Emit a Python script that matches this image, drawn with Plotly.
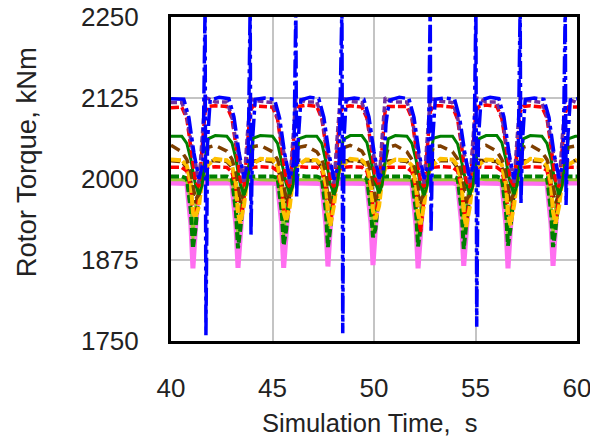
import plotly.graph_objects as go

# time grid shared by the lower/middle series (s)
t_grid = [40.00,
    40.53, 40.78, 40.98, 41.08, 41.20, 41.38, 41.53, 41.68, 41.83, 42.18,
    42.75, 43.00, 43.20, 43.30, 43.42, 43.60, 43.75, 43.90, 44.05, 44.40,
    45.00, 45.25, 45.45, 45.55, 45.67, 45.85, 46.00, 46.15, 46.30, 46.65,
    47.18, 47.43, 47.63, 47.73, 47.85, 48.03, 48.18, 48.33, 48.48, 48.83,
    49.40, 49.65, 49.85, 49.95, 50.07, 50.25, 50.40, 50.55, 50.70, 51.05,
    51.62, 51.87, 52.07, 52.17, 52.29, 52.47, 52.62, 52.77, 52.92, 53.27,
    53.87, 54.12, 54.32, 54.42, 54.54, 54.72, 54.87, 55.02, 55.17, 55.52,
    56.05, 56.30, 56.50, 56.60, 56.72, 56.90, 57.05, 57.20, 57.35, 57.70,
    58.27, 58.52, 58.72, 58.82, 58.94, 59.12, 59.27, 59.42, 59.57, 59.92,
    60.00]

pink = [1994,
    1994, 1993, 1930, 1862, 1922, 1991, 1994, 1994, 1995, 1994,
    1994, 1993, 1928, 1863, 1925, 1992, 1994, 1994, 1994, 1994,
    1994, 1992, 1931, 1863, 1923, 1991, 1994, 1995, 1994, 1994,
    1994, 1993, 1929, 1865, 1926, 1992, 1994, 1994, 1994, 1994,
    1994, 1993, 1932, 1867, 1924, 1991, 1994, 1994, 1995, 1994,
    1994, 1993, 1928, 1862, 1922, 1992, 1994, 1994, 1994, 1994,
    1994, 1992, 1930, 1866, 1925, 1991, 1994, 1995, 1994, 1994,
    1994, 1993, 1929, 1862, 1923, 1992, 1994, 1994, 1994, 1994,
    1994, 1993, 1931, 1866, 1924, 1991, 1994, 1994, 1994, 1994,
    1994]

yellowgreen = [1999,
    1999, 1997, 1962, 1908, 1955, 1995, 1999, 1999, 1999, 1999,
    1999, 1997, 1963, 1910, 1954, 1996, 1999, 1999, 2000, 1999,
    1999, 1998, 1961, 1909, 1956, 1995, 1999, 1999, 1999, 1999,
    1999, 1997, 1964, 1911, 1955, 1996, 1999, 2000, 1999, 1999,
    1999, 1997, 1962, 1914, 1953, 1995, 1999, 1999, 1999, 1999,
    1999, 1998, 1963, 1908, 1955, 1996, 1999, 1999, 1999, 1999,
    1999, 1997, 1962, 1911, 1956, 1995, 1999, 1999, 2000, 1999,
    1999, 1997, 1961, 1909, 1954, 1996, 1999, 1999, 1999, 1999,
    1999, 1998, 1963, 1912, 1955, 1995, 1999, 1999, 1999, 1999,
    1999]

green_dash = [2004,
    2004, 2001, 1950, 1893, 1922, 1984, 2001, 2004, 2004, 2004,
    2004, 2001, 1949, 1893, 1924, 1985, 2002, 2004, 2004, 2004,
    2004, 2002, 1951, 1898, 1921, 1983, 2001, 2004, 2005, 2004,
    2004, 2001, 1950, 1895, 1925, 1985, 2002, 2004, 2004, 2004,
    2004, 2001, 1952, 1910, 1923, 1984, 2001, 2004, 2004, 2004,
    2004, 2002, 1949, 1896, 1922, 1985, 2002, 2004, 2004, 2004,
    2004, 2001, 1950, 1892, 1924, 1983, 2001, 2005, 2004, 2004,
    2004, 2001, 1951, 1897, 1923, 1985, 2002, 2004, 2004, 2004,
    2004, 2002, 1950, 1895, 1922, 1984, 2001, 2004, 2004, 2004,
    2004]

red_low = [2018,
    2018, 2012, 1985, 1952, 1941, 1972, 2004, 2015, 2018, 2019,
    2018, 2011, 1986, 1950, 1938, 1973, 2005, 2016, 2018, 2019,
    2018, 2012, 1984, 1953, 1940, 1971, 2004, 2015, 2019, 2018,
    2018, 2013, 1985, 1951, 1935, 1972, 2003, 2015, 2018, 2019,
    2018, 2012, 1986, 1954, 1942, 1974, 2005, 2016, 2018, 2018,
    2018, 2011, 1985, 1950, 1918, 1972, 2004, 2015, 2018, 2019,
    2018, 2012, 1984, 1952, 1933, 1971, 2004, 2016, 2019, 2018,
    2018, 2012, 1985, 1951, 1930, 1973, 2005, 2015, 2018, 2019,
    2018, 2013, 1986, 1953, 1934, 1972, 2004, 2015, 2018, 2018,
    2018]

orange = [2030,
    2029, 2021, 1992, 1948, 1941, 1958, 1998, 2017, 2022, 2031,
    2029, 2022, 1993, 1947, 1932, 1960, 1999, 2018, 2023, 2031,
    2030, 2021, 1991, 1949, 1935, 1957, 1997, 2017, 2022, 2030,
    2029, 2021, 1992, 1946, 1928, 1959, 1998, 2018, 2022, 2031,
    2029, 2022, 1993, 1950, 1938, 1958, 1998, 2017, 2023, 2030,
    2029, 2021, 1992, 1947, 1930, 1960, 1999, 2018, 2022, 2031,
    2030, 2021, 1991, 1948, 1926, 1957, 1997, 2017, 2022, 2030,
    2029, 2022, 1992, 1947, 1929, 1959, 1998, 2018, 2023, 2031,
    2029, 2021, 1993, 1949, 1931, 1958, 1998, 2017, 2022, 2030,
    2030]

brown_low = [2028,
    2027, 2017, 1996, 1976, 1963, 1974, 2008, 2026, 2028, 2028,
    2027, 2018, 1995, 1975, 1964, 1975, 2009, 2027, 2028, 2029,
    2027, 2017, 1996, 1977, 1962, 1974, 2008, 2026, 2029, 2028,
    2028, 2017, 1995, 1976, 1963, 1976, 2007, 2026, 2028, 2028,
    2027, 2018, 1996, 1978, 1965, 1975, 2008, 2027, 2028, 2029,
    2027, 2017, 1995, 1975, 1962, 1974, 2009, 2026, 2028, 2028,
    2028, 2017, 1996, 1976, 1963, 1975, 2008, 2026, 2029, 2028,
    2027, 2018, 1995, 1977, 1964, 1974, 2007, 2027, 2028, 2028,
    2027, 2017, 1996, 1976, 1963, 1975, 2008, 2026, 2028, 2028,
    2028]

brown_up = [2052,
    2042, 2030, 2010, 1992, 1968, 1976, 1998, 2028, 2049, 2052,
    2043, 2031, 2011, 1991, 1967, 1977, 1999, 2029, 2050, 2052,
    2042, 2030, 2009, 1993, 1969, 1976, 1997, 2028, 2049, 2051,
    2042, 2031, 2010, 1992, 1966, 1975, 1998, 2027, 2048, 2052,
    2043, 2030, 2011, 1994, 1970, 1977, 1999, 2029, 2049, 2052,
    2042, 2030, 2010, 1991, 1967, 1976, 1998, 2028, 2050, 2051,
    2042, 2031, 2009, 1992, 1968, 1975, 1997, 2028, 2049, 2052,
    2043, 2030, 2010, 1993, 1967, 1977, 1999, 2029, 2049, 2052,
    2042, 2030, 2011, 1992, 1969, 1976, 1998, 2028, 2049, 2051,
    2050]

green_solid = [2066,
    2066, 2055, 2030, 2012, 1992, 1976, 1990, 2030, 2062, 2067,
    2066, 2056, 2031, 2011, 1991, 1975, 1991, 2031, 2063, 2067,
    2066, 2055, 2029, 2012, 1993, 1977, 1989, 2030, 2062, 2066,
    2066, 2055, 2030, 2013, 1992, 1976, 1990, 2029, 2061, 2067,
    2067, 2056, 2031, 2014, 1994, 1978, 1991, 2031, 2062, 2067,
    2066, 2055, 2030, 2011, 1991, 1975, 1990, 2030, 2063, 2066,
    2066, 2054, 2029, 2012, 1992, 1976, 1989, 2030, 2062, 2067,
    2067, 2056, 2030, 2011, 1992, 1977, 1991, 2031, 2062, 2067,
    2066, 2055, 2031, 2012, 1993, 1976, 1990, 2030, 2062, 2066,
    2066]

red_top = [2110,
    2111, 2093, 2050, 2022, 1998, 1988, 2048, 2104, 2112, 2113,
    2112, 2094, 2051, 2021, 1997, 1989, 2050, 2105, 2113, 2112,
    2111, 2092, 2049, 2023, 1999, 1987, 2047, 2104, 2112, 2114,
    2112, 2093, 2050, 2022, 1998, 1988, 2049, 2103, 2111, 2113,
    2111, 2094, 2052, 2024, 2000, 1990, 2051, 2105, 2112, 2112,
    2112, 2093, 2050, 2021, 1997, 1988, 2048, 2104, 2113, 2113,
    2111, 2092, 2049, 2022, 1998, 1987, 2049, 2105, 2112, 2114,
    2112, 2093, 2051, 2023, 1999, 1989, 2050, 2104, 2112, 2113,
    2111, 2094, 2050, 2022, 1998, 1988, 2048, 2103, 2111, 2112,
    2111]

purple = [2118,
    2118, 2096, 2056, 2041, 2026, 1993, 2062, 2126, 2124, 2119,
    2119, 2097, 2057, 2040, 2025, 1994, 2063, 2124, 2122, 2120,
    2118, 2095, 2055, 2042, 2027, 1992, 2061, 2125, 2123, 2119,
    2119, 2096, 2056, 2041, 2026, 1993, 2062, 2123, 2124, 2120,
    2118, 2097, 2058, 2043, 2028, 1995, 2064, 2126, 2122, 2119,
    2119, 2096, 2056, 2040, 2025, 1993, 2062, 2124, 2123, 2120,
    2118, 2095, 2055, 2041, 2026, 1992, 2061, 2125, 2124, 2119,
    2119, 2096, 2057, 2042, 2027, 1994, 2063, 2124, 2122, 2120,
    2118, 2097, 2056, 2041, 2026, 1993, 2062, 2123, 2123, 2119,
    2118]

# blue series has its own sample times (spikes)
t_blue = [40.00,
    40.63, 40.88, 41.13, 41.38, 41.58, 41.68, 41.72, 41.80, 41.93, 42.38,
    42.85, 43.10, 43.35, 43.60, 43.80, 43.90, 43.94, 44.02, 44.15, 44.60,
    45.10, 45.35, 45.60, 45.85, 46.05, 46.15, 46.19, 46.27, 46.40, 46.85,
    47.28, 47.53, 47.78, 48.03, 48.28, 48.42, 48.46, 48.52, 48.63, 49.03,
    49.50, 49.75, 50.00, 50.25, 50.45, 50.55, 50.59, 50.67, 50.80, 51.25,
    51.72, 51.97, 52.22, 52.47, 52.67, 52.77, 52.81, 52.89, 53.02, 53.47,
    53.97, 54.22, 54.47, 54.72, 54.92, 55.02, 55.06, 55.14, 55.27, 55.72,
    56.15, 56.40, 56.65, 56.90, 57.10, 57.20, 57.24, 57.32, 57.45, 57.90,
    58.37, 58.62, 58.87, 59.12, 59.32, 59.42, 59.46, 59.54, 59.67, 60.00]

blue = [2124,
    2123, 2095, 2040, 2000, 2025, 2270, 1759, 2060, 2122, 2126,
    2124, 2096, 2041, 2001, 2024, 2270, 1914, 2062, 2123, 2125,
    2123, 2094, 2039, 2000, 2026, 2270, 1972, 2061, 2122, 2126,
    2124, 2095, 2040, 1999, 2025, 2270, 1762, 2060, 2123, 2125,
    2123, 2096, 2042, 2001, 2012, 2060, 2085, 2105, 2122, 2126,
    2124, 2095, 2040, 2000, 2024, 2270, 1918, 2061, 2123, 2125,
    2123, 2094, 2041, 1999, 2025, 2270, 1772, 2060, 2122, 2126,
    2124, 2096, 2040, 2000, 2026, 2270, 1963, 2062, 2123, 2125,
    2123, 2095, 2039, 2001, 2025, 2270, 1960, 2061, 2122, 2124]

x_ticks = [40, 45, 50, 55, 60]
y_ticks = [1750, 1875, 2000, 2125, 2250]

series = [
    (t_grid, pink, "#FF6EF0", "solid", 5),
    (t_grid, yellowgreen, "#9ACD32", "solid", 3),
    (t_grid, green_dash, "#008000", "8px,3px", 4),
    (t_grid, brown_low, "#6B3200", "9px,4px", 3.5),
    (t_grid, red_low, "#FF0000", "8px,3px", 3.5),
    (t_grid, orange, "#FFC000", "10px,2px", 4),
    (t_grid, brown_up, "#7F3F00", "10px,6px", 3.5),
    (t_grid, green_solid, "#008000", "solid", 3),
    (t_grid, red_top, "#FF0000", "8px,3px", 3.5),
    (t_grid, purple, "#7030A0", "6px,3px", 3.5),
    (t_blue, blue, "#0000FF", "18px,4px,4px,4px", 3.5),
]

fig = go.Figure()
for tx, vy, col, dash, w in series:
    fig.add_trace(go.Scatter(x=tx, y=vy, mode="lines",
                             line=dict(color=col, dash=dash, width=w),
                             showlegend=False, hoverinfo="skip"))

tick_font = dict(family="Liberation Sans, Arial, sans-serif", size=26, color="#222222")
xt_font = dict(family="Liberation Sans, Arial, sans-serif", size=25.5, color="#222222")
yt_font = dict(family="Liberation Sans, Arial, sans-serif", size=27.5, color="#222222")

fig.update_layout(
    width=590, height=437,
    margin=dict(l=171, r=13, t=17, b=96, autoexpand=False),
    paper_bgcolor="white", plot_bgcolor="white",
    font=tick_font,
    annotations=[
        dict(text="Simulation Time,  s", xref="paper", yref="paper",
             x=0.49, y=-0.253, xanchor="center", yanchor="middle",
             showarrow=False, font=xt_font),
        dict(text="Rotor Torque, kNm", xref="paper", yref="paper",
             x=-0.355, y=0.551, xanchor="center", yanchor="middle",
             textangle=-90, showarrow=False, font=yt_font),
    ],
)
fig.update_xaxes(range=[40, 60], tickvals=x_ticks, ticktext=[str(v) for v in x_ticks],
                 showgrid=True, gridcolor="#C4C4C4", gridwidth=1.5,
                 showline=True, mirror=True, linecolor="black", linewidth=3,
                 zeroline=False, ticks="", ticklabelstandoff=22, tickfont=tick_font,
                 automargin=False, ticklabeloverflow="allow")
fig.update_yaxes(range=[1750, 2250], tickvals=y_ticks, ticktext=[str(v) for v in y_ticks],
                 showgrid=True, gridcolor="#C4C4C4", gridwidth=1.5,
                 showline=True, mirror=True, linecolor="black", linewidth=3,
                 zeroline=False, ticks="", ticklabelstandoff=24, tickfont=tick_font,
                 automargin=False, ticklabeloverflow="allow")

fig.write_html("out.html", config={"displayModeBar": False},
               post_script="document.body.style.margin='0';document.body.style.overflow='hidden';")
